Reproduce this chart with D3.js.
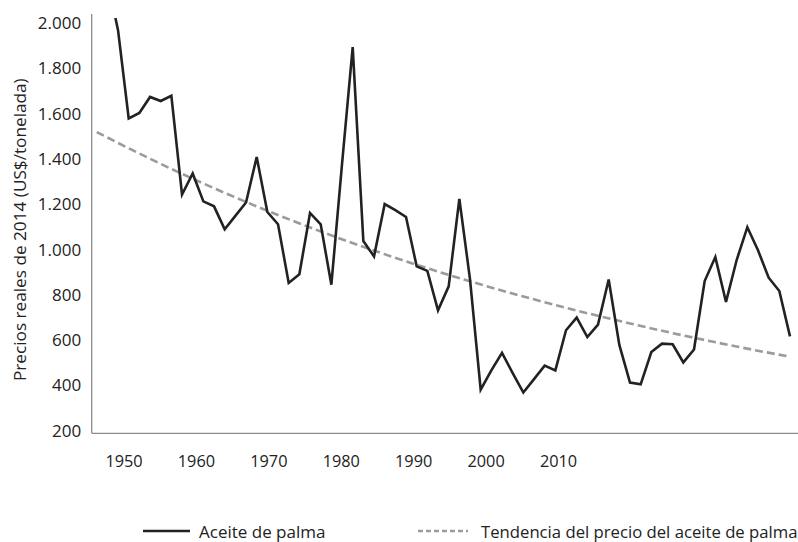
<!DOCTYPE html>
<html>
<head>
<meta charset="utf-8">
<script src="https://cdn.jsdelivr.net/npm/d3@7"></script>
<style>
  html, body { margin: 0; padding: 0; background: #fff; }
  svg { display: block; }
</style>
</head>
<body>
<svg id="chart" width="798" height="542"></svg>
<script>
// ---- data ----
const years = d3.range(1950, 2016);
const palmOil = [
  2050, 2200, 1980, 1590, 1614, 1685, 1667, 1690, 1254, 1347,
  1224, 1202, 1101, 1160, 1219, 1420, 1177, 1123, 864, 902,
  1173, 1123, 856, 1388, 1905, 1049, 981, 1212, 1185, 1155,
  937, 917, 743, 849, 1235, 880, 393, 478, 555, 466,
  380, 439, 499, 478, 655, 711, 625, 680, 879, 590,
  424, 416, 559, 596, 593, 513, 570, 872, 978, 780,
  965, 1110, 1008, 887, 828, 628
];
const trendYears = [1950, 1955, 1960, 1965, 1970, 1975, 1980, 1985, 1990, 1995, 2000, 2005, 2010, 2015];
const trendValues = [1530, 1412, 1303, 1202, 1109, 1023, 944, 871, 804, 742, 685, 632, 583, 538];
const yTicks = [200, 400, 600, 800, 1000, 1200, 1400, 1600, 1800, 2000];
const xTickLabels = ["1950", "1960", "1970", "1980", "1990", "2000", "2010"];
const seriesNames = ["Aceite de palma", "Tendencia del precio del aceite de palma"];
const yTitle = "Precios reales de 2014 (US$/tonelada)";

// ---- layout ----
const svg = d3.select("#chart");
const pLeft = 91.7, pRight = 798, pTop = 14, pBottom = 433.3;
const font = "'Open Sans', sans-serif";
const x = d3.scaleLinear().domain([1950, 2015]).range([96.7, 790]);
const y = d3.scaleLinear().domain([200, 2000]).range([pBottom, 25.6]);
const xLab = d3.scalePoint().domain(xTickLabels).range([123.5, 558]);
const loc = d3.formatLocale({decimal: ",", thousands: ".", grouping: [3], currency: ["", ""]});
const fmt = loc.format(",");

svg.append("defs").append("clipPath").attr("id", "clip")
  .append("rect").attr("x", pLeft).attr("y", 18).attr("width", pRight - pLeft).attr("height", pBottom - 18);

// axes lines
svg.append("line").attr("x1", pLeft).attr("x2", pLeft).attr("y1", pTop).attr("y2", pBottom)
  .attr("stroke", "#8c8c8c").attr("stroke-width", 1.3);
svg.append("line").attr("x1", pLeft).attr("x2", pRight).attr("y1", pBottom).attr("y2", pBottom)
  .attr("stroke", "#8c8c8c").attr("stroke-width", 1.3);

// y axis labels
const yAxis = svg.append("g").attr("transform", `translate(${pLeft},-2.5)`)
  .call(d3.axisLeft(y).tickValues(yTicks).tickFormat(fmt).tickSize(0).tickPadding(10.5));
yAxis.select(".domain").remove();
yAxis.selectAll("text").attr("font-family", font).attr("font-size", 17).attr("fill", "#222");

// x axis labels
const xAxis = svg.append("g").attr("transform", `translate(0,${pBottom})`)
  .call(d3.axisBottom(xLab).tickSize(0).tickPadding(22));
xAxis.select(".domain").remove();
xAxis.selectAll("text").attr("font-family", font).attr("font-size", 16.3).attr("fill", "#222");

// y title
svg.append("text").attr("transform", "translate(19,229.7) rotate(-90)")
  .attr("text-anchor", "middle").attr("dominant-baseline", "central")
  .attr("font-family", font).attr("font-size", 17.2).attr("fill", "#222").text(yTitle);

// trend
const trendData = trendYears.map((d, i) => ({year: d, v: trendValues[i]}));
svg.append("path").datum(trendData)
  .attr("clip-path", "url(#clip)")
  .attr("d", d3.line().x(d => x(d.year)).y(d => y(d.v)).curve(d3.curveMonotoneX))
  .attr("fill", "none").attr("stroke", "#9b9b9b").attr("stroke-width", 2.6)
  .attr("stroke-dasharray", "8,4");

// palm oil
const data = years.map((d, i) => ({year: d, v: palmOil[i]}));
svg.append("path").datum(data)
  .attr("clip-path", "url(#clip)")
  .attr("d", d3.line().x(d => x(d.year)).y(d => y(d.v)))
  .attr("fill", "none").attr("stroke", "#222222").attr("stroke-width", 2.6)
  .attr("stroke-linejoin", "miter");

// legend
const legY = 531;
const leg = svg.append("g");
leg.append("line").attr("x1", 143).attr("x2", 190).attr("y1", legY).attr("y2", legY)
  .attr("stroke", "#222").attr("stroke-width", 2.6);
leg.append("text").attr("x", 199).attr("y", legY).attr("dominant-baseline", "central")
  .attr("font-family", font).attr("font-size", 17).attr("fill", "#222").text(seriesNames[0]);
leg.append("line").attr("x1", 418).attr("x2", 468).attr("y1", legY).attr("y2", legY)
  .attr("stroke", "#9b9b9b").attr("stroke-width", 2.6).attr("stroke-dasharray", "5,3");
leg.append("text").attr("x", 481).attr("y", legY).attr("dominant-baseline", "central")
  .attr("font-family", font).attr("font-size", 16.7).attr("fill", "#222").text(seriesNames[1]);
</script>
</body>
</html>
